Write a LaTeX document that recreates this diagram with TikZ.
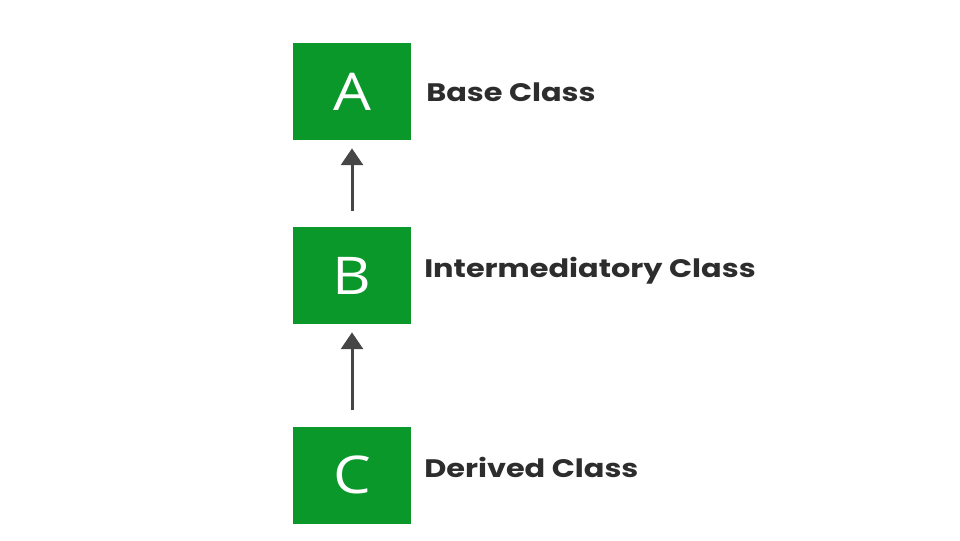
\documentclass[tikz,border=0pt]{standalone}
\usepackage{fontspec}
\setmainfont{Poppins}
\newfontfamily\labelfont[FakeStretch=1.2]{Poppins}
\newfontfamily\letterfont[FakeStretch=1.15]{Open Sans}
\usetikzlibrary{arrows.meta}
\definecolor{boxgreen}{RGB}{10,152,42}
\definecolor{arrowgray}{RGB}{70,70,70}
\definecolor{labelgray}{RGB}{45,45,45}
\tikzset{
	classbox/.style={fill=boxgreen, minimum width=2.95cm, minimum height=2.425cm,
			inner sep=0pt, text=white, font=\letterfont\fontsize{37}{37}\selectfont},
	classlabel/.style={anchor=west, inner sep=0pt, text=labelgray,
			font=\labelfont\bfseries\fontsize{18}{18}\selectfont},
	inherit/.style={-{Triangle[length=0.42cm,width=0.55cm]}, arrowgray, line width=0.075cm,
			shorten <=0.4cm, shorten >=0.2cm}
}

\begin{document}
\begin{tikzpicture}
			\useasboundingbox (0,0) rectangle (24,-13.5);
			\node[classbox] (A) at (8.80,-2.29) {A};
			\node[classbox] (B) at (8.80,-6.89) {B};
			\node[classbox] (C) at (8.80,-11.88) {C};
			\node[classlabel] (baselabel) at (10.65,-2.30) {Base Class};
			\node[classlabel] (interlabel) at (10.60,-6.78) {Intermediatory Class};
			\node[classlabel] (derivedlabel) at (10.60,-11.68) {Derived Class};
			\draw[inherit] (B.north) -- (A.south);
			\draw[inherit] (C.north) -- (B.south);
		\end{tikzpicture}
\end{document}
